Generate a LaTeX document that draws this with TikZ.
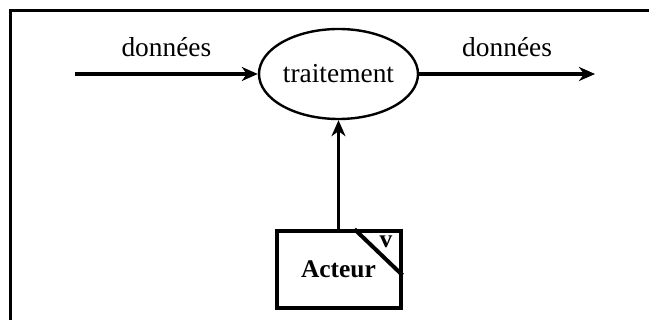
\documentclass[tikz,border=0pt]{standalone}
\usepackage{fontspec}
\setmainfont{Liberation Serif}
\usetikzlibrary{arrows.meta,positioning,shapes.geometric}
\begin{document}
\begin{tikzpicture}[x=0.5pt,y=-0.5pt,
  process/.style={ellipse,draw,line width=1.2pt,minimum width=79.5pt,minimum height=45pt,inner sep=0pt,font=\fontsize{13.7}{16}\selectfont},
  actorbox/.style={rectangle,draw,line width=2pt,minimum width=62pt,minimum height=38.5pt,inner sep=0pt,font=\fontsize{12.7}{15}\selectfont\bfseries},
  flow/.style={-{Stealth[length=8pt,width=7pt,inset=2.5pt]},line width=1.7pt},
  lbl/.style={above=4.5pt,font=\fontsize{13.7}{16}\selectfont}]
\useasboundingbox (0,0) rectangle (649,320);
\draw[line width=1.5pt] (10,320) -- (10,11) -- (649,11);
\node[process] (trait) at (338.5,74) {traitement};
\node[actorbox,below=54.5pt of trait] (act) {Acteur};
\coordinate (din) at (75,74);
\coordinate (dout) at (595,74);
\draw[line width=2pt] ([xshift=-24pt]act.north east) -- ([yshift=-23pt]act.north east);
\node[font=\fontsize{12.7}{15}\selectfont\bfseries,inner sep=0pt] (ver) at ([xshift=-8.25pt,yshift=-6.5pt]act.north east) {v};
\draw[flow] (din) -- node[lbl]{données} (trait.west);
\draw[flow] (trait.east) -- node[lbl]{données} (dout);
\draw[flow] (act) -- (trait);
\end{tikzpicture}
\end{document}
